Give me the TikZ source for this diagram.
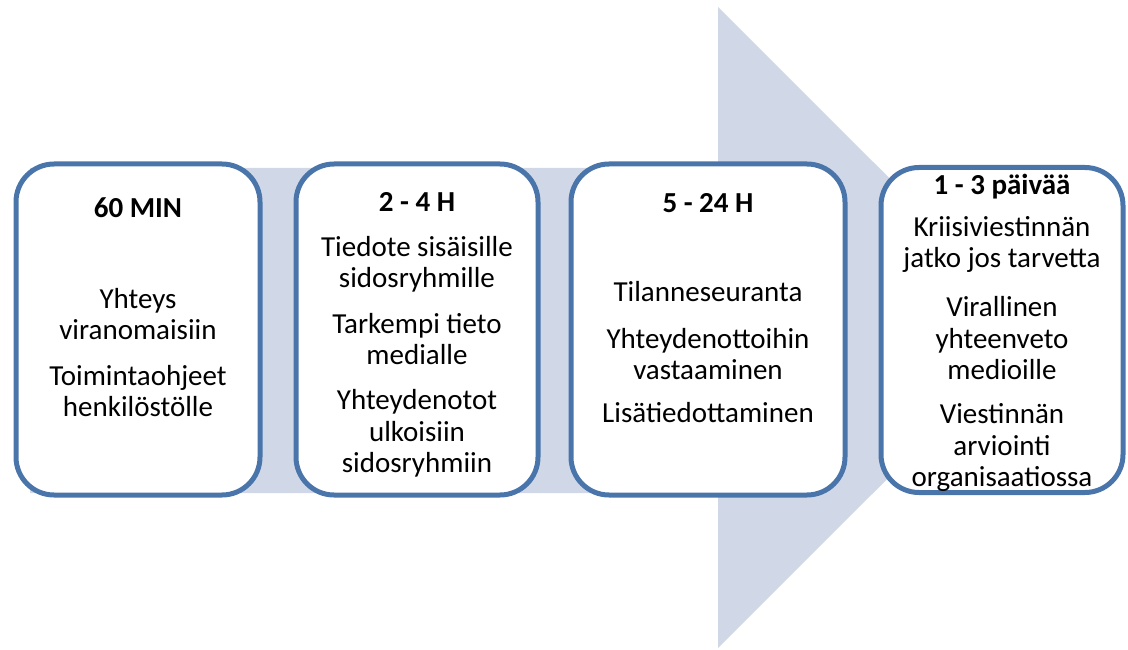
\documentclass[tikz,border=0pt]{standalone}
\usepackage{fontspec}
\setmainfont{Carlito}
\definecolor{reuna}{RGB}{74,117,170}
\definecolor{nuoli}{RGB}{208,216,232}
\tikzset{
  vaihe/.style={draw=reuna, line width=5pt, fill=white, rounded corners=38pt},
  rivi/.style={anchor=base, align=center, inner sep=0pt, font=\fontsize{29}{31.5}\selectfont},
  otsikko/.style={rivi, font=\fontsize{29}{31.5}\selectfont\bfseries}
}
\begin{document}
\begin{tikzpicture}[x=1pt, y=-1pt]
  \useasboundingbox (0,0) rectangle (1128,650);

  % La fleche
  \fill[nuoli] (30,168) -- (718,168) -- (718,7) -- (1039,327.5)
    -- (718,648) -- (718,493) -- (30,493) -- cycle;

  % Les cadres
  \node[vaihe, minimum width=244pt, minimum height=331pt] (v1) at (138,329.5) {};
  \node[vaihe, minimum width=242pt, minimum height=331pt] (v2) at (417,329.5) {};
  \node[vaihe, minimum width=274pt, minimum height=331pt] (v3) at (708,329.5) {};
  \node[vaihe, minimum width=242pt, minimum height=325pt] (v4) at (1002,330) {};

  % Les textes (base = derniere ligne)
  \node[otsikko] (o1) at (138,217.5) {60 MIN};
  \node[rivi] (a1) at (138,339.5) {Yhteys\\viranomaisiin};
  \node[rivi] (b1) at (138,416.5) {Toimintaohjeet\\henkilöstölle};

  \node[otsikko] (o2) at (417,211.5) {2 - 4 H};
  \node[rivi] (a2) at (417,287.5) {Tiedote sisäisille\\sidosryhmille};
  \node[rivi] (b2) at (417,364.5) {Tarkempi tieto\\medialle};
  \node[rivi] (c2) at (417,472.5) {Yhteydenotot\\ulkoisiin\\sidosryhmiin};

  \node[otsikko] (o3) at (708,212.5) {5 - 24 H};
  \node[rivi] (a3) at (708,301.5) {Tilanneseuranta};
  \node[rivi] (b3) at (708,379.5) {Yhteydenottoihin\\vastaaminen};
  \node[rivi] (c3) at (708,422.5) {Lisätiedottaminen};

  \node[otsikko] (o4) at (1002,194.5) {1 - 3 päivää};
  \node[rivi] (a4) at (1002,267.5) {Kriisiviestinnän\\jatko jos tarvetta};
  \node[rivi] (b4) at (1002,379.5) {Virallinen\\yhteenveto\\medioille};
  \node[rivi] (c4) at (1002,486.5) {Viestinnän\\arviointi\\organisaatiossa};

\end{tikzpicture}
\end{document}
